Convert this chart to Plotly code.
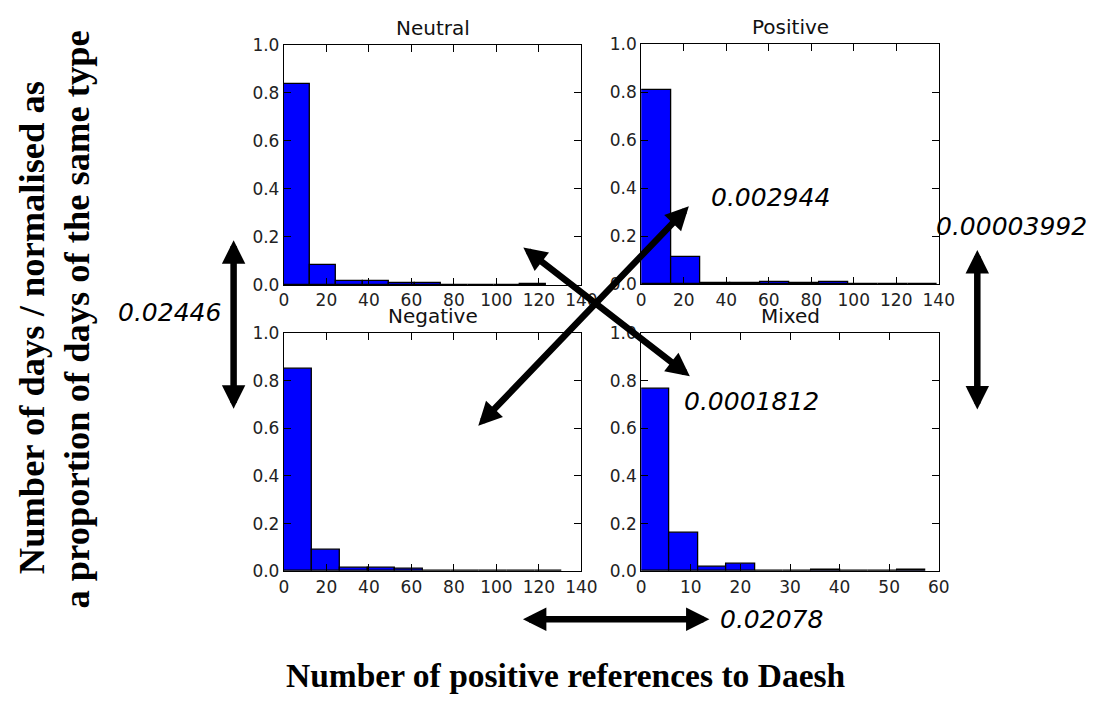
import plotly.graph_objects as go

# Normalised histograms: share of days per bin of positive references
panel_names = ["Neutral", "Positive", "Negative", "Mixed"]

neutral_bin_width = 12.34
neutral_heights = [0.838, 0.084, 0.017, 0.017, 0.008, 0.008, 0.0, 0.0, 0.001, 0.006]

positive_bin_width = 13.95
positive_heights = [0.807, 0.113, 0.004, 0.004, 0.010, 0.004, 0.010, 0.0, 0.002, 0.002]

negative_bin_width = 13.1
negative_heights = [0.850, 0.088, 0.015, 0.015, 0.010, 0.0, 0.002, 0.002, 0.0, 0.002]

mixed_bin_width = 5.73
mixed_heights = [0.765, 0.163, 0.019, 0.030, 0.0, 0.0, 0.007, 0.0, 0.0, 0.007]

x_ranges = [140, 140, 140, 60]
x_steps = [20, 20, 20, 10]
y_tick_values = [0.0, 0.2, 0.4, 0.6, 0.8, 1.0]

# Pairwise comparison values shown beside the arrows
left_pair_value = "0.02446"
right_pair_value = "0.00003992"
bottom_pair_value = "0.02078"
diag_up_value = "0.002944"
diag_down_value = "0.0001812"

y_label_line1 = "Number of days / normalised as"
y_label_line2 = "a proportion of days of the same type"
x_label = "Number of positive references to Daesh"

W, H = 1113, 704


def px(x):
    return x / W


def py(y):
    return 1 - y / H


# panel frames in pixels: (left, right, top, bottom)
frames = [
    (284.3, 587.5, 36.0, 283.0),
    (648.5, 951.7, 35.0, 282.3),
    (284.3, 587.5, 332.3, 577.7),
    (648.5, 951.7, 332.3, 577.7),
]

series = [
    (neutral_bin_width, neutral_heights),
    (positive_bin_width, positive_heights),
    (negative_bin_width, negative_heights),
    (mixed_bin_width, mixed_heights),
]

fig = go.Figure()
tick_font = dict(family="DejaVu Sans", size=17, color="#222222")

for i, (bw, hts) in enumerate(series):
    n = i + 1
    suffix = "" if n == 1 else str(n)
    centers = [bw * (k + 0.5) for k in range(len(hts))]
    fig.add_trace(go.Bar(
        x=centers, y=hts, width=[bw] * len(hts),
        marker=dict(color="#0000ff", line=dict(color="black", width=1.3)),
        xaxis="x" + suffix, yaxis="y" + suffix, showlegend=False,
    ))
    l, r, t, b = frames[i]
    common = dict(showline=True, linecolor="black", linewidth=1.2, mirror="ticks",
                  ticks="inside", ticklen=7, tickcolor="black", tickwidth=1,
                  showgrid=False, zeroline=False, tickfont=tick_font, fixedrange=True)
    fig.layout["xaxis" + suffix] = dict(
        domain=[px(l), px(r)], range=[0, x_ranges[i]], dtick=x_steps[i], tick0=0,
        anchor="y" + suffix, **common)
    fig.layout["yaxis" + suffix] = dict(
        domain=[py(b), py(t)], range=[0, 1], tickvals=y_tick_values,
        tickformat=".1f", anchor="x" + suffix, **common)
    fig.add_annotation(
        x=px((l + r) / 2), y=py(t - 3), xref="paper", yref="paper",
        text=panel_names[i], showarrow=False, xanchor="center", yanchor="bottom",
        font=dict(family="DejaVu Sans", size=20, color="#111111"))

# double-headed comparison arrows: (tip x, tip y, tail x, tail y) in pixels
arrows = [
    (233, 237, 233, 407),
    (991, 247, 991, 408),
    (718, 627, 530, 627),
    (698, 377, 530, 247),
    (697, 202, 485, 423),
]
for x1, y1, x0, y0 in arrows:
    fig.add_annotation(
        x=px(x1), y=py(y1), xref="paper", yref="paper",
        ax=x0 - x1, ay=y0 - y1, text="", showarrow=True,
        arrowhead=2, startarrowhead=2, arrowside="end+start",
        arrowsize=0.72, startarrowsize=0.72, arrowwidth=6.5, arrowcolor="black",
        standoff=0, startstandoff=0)

value_font = dict(family="DejaVu Sans", size=25, color="black")
value_labels = [
    (left_pair_value, 168, 311),
    (right_pair_value, 1026, 223),
    (bottom_pair_value, 781, 627),
    (diag_up_value, 780, 193),
    (diag_down_value, 761, 403),
]
for txt, cx, cy in value_labels:
    fig.add_annotation(
        x=px(cx), y=py(cy), xref="paper", yref="paper", text="<i>" + txt + "</i>",
        showarrow=False, xanchor="center", yanchor="middle", font=value_font)

label_font = dict(family="Liberation Serif", size=36.5, color="black")
fig.add_annotation(x=px(27), y=py(327), xref="paper", yref="paper",
                   text="<b>" + y_label_line1 + "</b>", textangle=-90,
                   showarrow=False, xanchor="center", yanchor="middle", font=label_font)
fig.add_annotation(x=px(73), y=py(319), xref="paper", yref="paper",
                   text="<b>" + y_label_line2 + "</b>", textangle=-90,
                   showarrow=False, xanchor="center", yanchor="middle", font=label_font)
fig.add_annotation(x=px(572), y=py(685), xref="paper", yref="paper",
                   text="<b>" + x_label + "</b>",
                   showarrow=False, xanchor="center", yanchor="middle",
                   font=dict(family="Liberation Serif", size=33.5, color="black"))

fig.update_layout(
    width=W, height=H, margin=dict(l=0, r=0, t=0, b=0),
    paper_bgcolor="white", plot_bgcolor="white", bargap=0,
)

fig.write_html("out.html", config={"displayModeBar": False})
